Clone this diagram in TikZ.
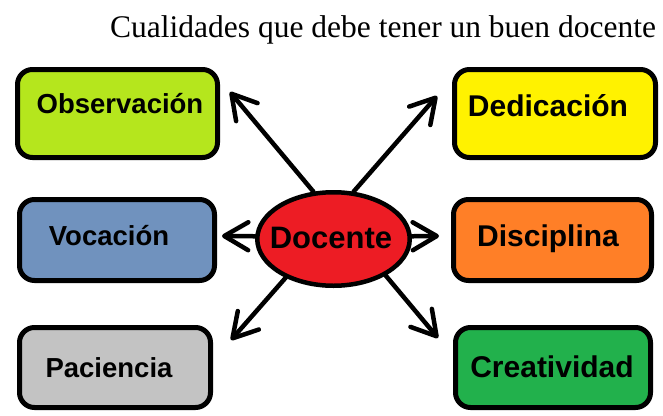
\documentclass[tikz,border=0pt]{standalone}
\usepackage{fontspec}
\setmainfont{Liberation Serif}
\setsansfont{Liberation Sans}
\usepackage{xcolor}
\definecolor{obsgreen}{HTML}{B5E61D}
\definecolor{dedyellow}{HTML}{FFF200}
\definecolor{vocblue}{HTML}{7092BE}
\definecolor{disorange}{HTML}{FF7F27}
\definecolor{pacgray}{HTML}{C3C3C3}
\definecolor{cregreen}{HTML}{22B14C}
\definecolor{docred}{HTML}{ED1C24}
\usetikzlibrary{arrows.meta,shapes.geometric}

\begin{document}
\begin{tikzpicture}[x=1pt, y=-1pt,
    box/.style={draw, line width=5pt, rounded corners=15pt, inner sep=0pt},
    lbl/.style={anchor=base, inner sep=0pt, font=\sffamily\bfseries\fontsize{27.5}{31}\selectfont},
    lblR/.style={lbl, font=\sffamily\bfseries\fontsize{30}{34}\selectfont},
    arr/.style={line width=4.5pt, line cap=round, -{Straight Barb[length=24pt, width=28pt, round]}}]
    \useasboundingbox (0,0) rectangle (663,415);
    \node[anchor=base west, inner sep=0pt, font=\fontsize{31.5}{36}\selectfont] (Title) at (110,37) {Cualidades que debe tener un buen docente};

    \node[box, fill=obsgreen,  minimum width=200pt, minimum height=88pt] (Obs) at (117.5,113.5) {};
    \node[box, fill=dedyellow, minimum width=201pt, minimum height=88pt] (Ded) at (555,113.5) {};
    \node[box, fill=vocblue,   minimum width=195pt, minimum height=81pt] (Voc) at (117,240) {};
    \node[box, fill=disorange, minimum width=198pt, minimum height=81pt] (Dis) at (552.5,240) {};
    \node[box, fill=pacgray,   minimum width=191pt, minimum height=80pt] (Pac) at (115,367.5) {};
    \node[box, fill=cregreen,  minimum width=195pt, minimum height=80pt] (Cre) at (553,367.5) {};

    \node[lbl]  (ObsT) at (120,113) {Observación};
    \node[lblR] (DedT) at (548,116) {Dedicación};
    \node[lbl]  (VocT) at (109,245) {Vocación};
    \node[lblR] (DisT) at (548,246) {Disciplina};
    \node[lbl]  (PacT) at (109,377) {Paciencia};
    \node[lblR] (CreT) at (552,377) {Creatividad};

    \node[ellipse, draw, line width=4.5pt, fill=docred, inner sep=0pt,
          minimum width=152.5pt, minimum height=93.5pt] (Doc) at (333.5,239) {};
    \node[lblR, font=\sffamily\bfseries\fontsize{31}{35}\selectfont] (DocT) at (331,248) {Docente};

    \coordinate (ObsIn) at (230,92);
    \coordinate (DedIn) at (437,96);
    \coordinate (VocIn) at (222,236);
    \coordinate (DisIn) at (439,236);
    \coordinate (PacIn) at (231,340);
    \coordinate (CreIn) at (438,338);

    \draw[arr] (Doc.113) -- (ObsIn);
    \draw[arr] (Doc.67)  -- (DedIn);
    \draw[arr] (Doc.178) -- (VocIn);
    \draw[arr] (Doc.2)   -- (DisIn);
    \draw[arr] (Doc.219) -- (PacIn);
    \draw[arr] (Doc.325) -- (CreIn);
\end{tikzpicture}
\end{document}
